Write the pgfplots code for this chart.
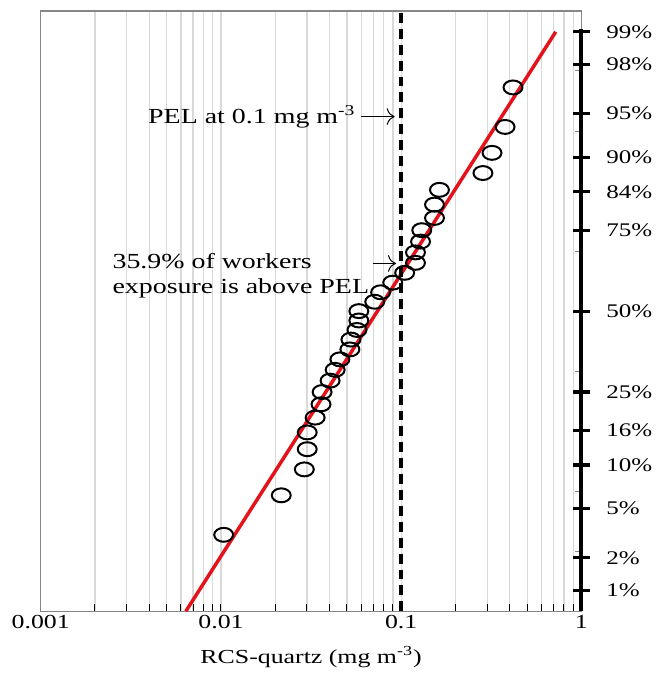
\documentclass[border=0pt]{standalone}
\usepackage{fontspec}
\setmainfont{Liberation Serif}[FakeStretch=1.3]
\usepackage{pgfplots}
\pgfplotsset{compat=1.18}
\usetikzlibrary{arrows.meta}
\definecolor{fitRed}{HTML}{E3121B}
\definecolor{gridGrey}{HTML}{D9D9D9}
\definecolor{frameGrey}{HTML}{868686}

\begin{document}
\begin{tikzpicture}
\begin{axis}[
  scale only axis, width=272pt, height=302pt,
  xmode=log, xmin=0.001, xmax=1, ymin=-2.5, ymax=2.5,
  axis line style={frameGrey, line width=0.6pt},
  xtick={0.001,0.01,0.1,1}, xticklabels={0.001,0.01,0.1,1},
  minor xtick={0.002,0.003,0.004,0.005,0.006,0.007,0.008,0.009,
    0.02,0.03,0.04,0.05,0.06,0.07,0.08,0.09,
    0.2,0.3,0.4,0.5,0.6,0.7,0.8,0.9},
  xmajorgrids, xminorgrids,
  major grid style={gridGrey, line width=0.6pt},
  minor grid style={gridGrey, line width=0.6pt},
  xtick pos=left, tick align=inside,
  major tick length=3.5pt, minor tick length=3.5pt,
  x tick style={black, line width=0.5pt},
  ytick={-2,-1.5,...,2}, yticklabel={\mbox{}}, ytick pos=right,
  y tick style={frameGrey, line width=0.5pt},
  xticklabel style={yshift=1.3pt},
  xlabel={RCS-quartz (mg m\textsuperscript{-3})},
  xlabel style={at={(axis description cs:0.5,0)}, anchor=center, yshift=-23pt},
]
% fitted lognormal line
\addplot[fitRed, line width=1.75pt] coordinates {(0.00638,-2.5) (0.72,2.326)};
% measured exposures vs. normal score
\addplot[only marks, mark=o, mark size=3.5pt,
  mark options={xscale=1.36, line width=1pt, black}] table {
x z
0.01035 -1.863
0.0216 -1.534
0.0290 -1.318
0.0301 -1.150
0.0301 -1.010
0.0333 -0.887
0.0359 -0.776
0.0364 -0.674
0.0403 -0.579
0.0430 -0.489
0.0457 -0.402
0.0519 -0.319
0.0526 -0.237
0.0568 -0.157
0.0582 -0.078
0.0582 0
0.0713 0.078
0.0769 0.157
0.0897 0.237
0.1045 0.319
0.120 0.402
0.120 0.489
0.128 0.579
0.130 0.674
0.153 0.776
0.153 0.887
0.163 1.010
0.284 1.150
0.319 1.318
0.377 1.534
0.417 1.863
};
\draw[black, line width=2pt, dash pattern=on 5pt off 3pt] (axis cs:0.1,-2.5) -- (axis cs:0.1,2.5);
\node[anchor=east, inner sep=0pt, font=\fontsize{10.8}{13}\selectfont] at (axis cs:0.0560,1.62) {PEL at 0.1 mg m\textsuperscript{-3}};
\draw[-{To[length=4pt]}, line width=0.5pt] (axis cs:0.0597,1.62) -- (axis cs:0.092,1.62);
\node[anchor=west, align=left, inner sep=0pt, font=\fontsize{10.8}{12.5}\selectfont]
  at (axis cs:0.00249,0.294) {35.9\% of workers\\exposure is above PEL};
\draw[-{To[length=4pt]}, line width=0.5pt] (axis cs:0.0695,0.397) -- (axis cs:0.0935,0.397);
\end{axis}
% right-hand probability scale
\begin{axis}[
  scale only axis, width=272pt, height=292.94pt,
  xmin=0, xmax=1, ymin=-2.5, ymax=2.35,
  hide x axis, axis y line*=right,
  axis line style={black, line width=2pt, -},
  ytick={-2.326,-2.054,-1.645,-1.282,-0.994,-0.674,0,0.674,0.994,1.282,1.645,2.054,2.326},
  yticklabels={1\%,2\%,5\%,10\%,16\%,25\%,50\%,75\%,84\%,90\%,95\%,98\%,99\%},
  tick align=center, major tick length=9pt,
  y tick style={black, line width=1.6pt},
  yticklabel style={anchor=west, xshift=4.5pt, font=\fontsize{9.7}{11}\selectfont},
]
\end{axis}
\path (-20.5pt,-29.5pt) rectangle (308.5pt,307.5pt);
\end{tikzpicture}
\end{document}
